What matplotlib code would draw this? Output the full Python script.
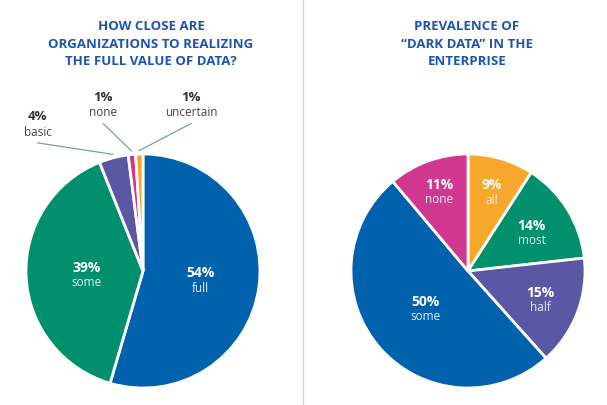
import numpy as np
import matplotlib
matplotlib.use("Agg")
import matplotlib.pyplot as plt
from matplotlib.lines import Line2D

plt.rcParams["font.family"] = ["Open Sans", "DejaVu Sans"]

W, H = 607, 406
TITLE_BLUE = "#1b55b0"
LIM = 1.8

# left pie: how close are organizations to realizing the full value of data
left_labels = ["full", "some", "basic", "none", "uncertain"]
left_values = [54, 39, 4, 1, 1]
left_colors = ["#0061ad", "#00906c", "#5a58a5", "#d1378f", "#f7a72b"]
left_title = "HOW CLOSE ARE\nORGANIZATIONS TO REALIZING\nTHE FULL VALUE OF DATA?"

# right pie: prevalence of dark data
right_labels = ["all", "most", "half", "some", "none"]
right_values = [9, 14, 15, 50, 11]
right_colors = ["#f7a72b", "#00906c", "#5a58a5", "#0061ad", "#d1378f"]
right_title = "PREVALENCE OF\n\u201cDARK DATA\u201d IN THE\nENTERPRISE"


def pie_axes(fig, cx, cy, r):
    # square axes where one data unit is r pixels, centred on (cx, cy) from top-left
    side = 2 * LIM * r
    ax = fig.add_axes([(cx - side / 2) / W, (H - cy - side / 2) / H, side / W, side / H])
    return ax


def fix_limits(ax):
    # pie() resets the limits, so put ours back afterwards
    ax.set_xlim(-LIM, LIM)
    ax.set_ylim(-LIM, LIM)
    ax.set_aspect("equal")
    ax.axis("off")


def mid_angle(w):
    return np.deg2rad((w.theta1 + w.theta2) / 2)


def inside_label(ax, w, pct, name, dist):
    a = mid_angle(w)
    x, y = dist * np.cos(a), dist * np.sin(a)
    ax.text(x, y + 0.06, f"{pct}%", ha="center", va="center", color="white",
            fontsize=10, fontweight="bold")
    ax.text(x, y - 0.07, name, ha="center", va="center", color="#e4ecf4",
            fontsize=8.5)


fig = plt.figure(figsize=(W / 100, H / 100), dpi=100)

# ---- left chart
axl = pie_axes(fig, 143, 272, 117)
wl, _ = axl.pie(left_values, colors=left_colors, startangle=90, counterclock=False,
                radius=1.0, wedgeprops=dict(edgecolor="white", linewidth=2))
fix_limits(axl)
inside_label(axl, wl[0], left_values[0], left_labels[0], 0.5)
inside_label(axl, wl[1], left_values[1], left_labels[1], 0.48)

# small slices get outside labels with leader lines
outside = {2: (-0.90, 1.265), 3: (-0.34, 1.43), 4: (0.41, 1.43)}
for i, (tx, ty) in outside.items():
    a = mid_angle(wl[i])
    axl.text(tx, ty + 0.06, f"{left_values[i]}%", ha="center", va="center",
             color="#333333", fontsize=9.5, fontweight="bold")
    axl.text(tx, ty - 0.07, left_labels[i], ha="center", va="center",
             color="#444444", fontsize=8.5)
    axl.plot([tx, 1.03 * np.cos(a)], [ty - 0.17, 1.03 * np.sin(a)],
             color="#7f9bb3", lw=0.9, clip_on=False)

# ---- right chart
axr = pie_axes(fig, 468, 272, 117)
wr, _ = axr.pie(right_values, colors=right_colors, startangle=90, counterclock=False,
                radius=1.0, wedgeprops=dict(edgecolor="white", linewidth=2))
fix_limits(axr)
right_dist = [0.71, 0.64, 0.66, 0.48, 0.73]
for w, v, name, d in zip(wr, right_values, right_labels, right_dist):
    inside_label(axr, w, v, name, d)

# ---- titles and separator
fig.text(151 / W, 1 - 44 / H, left_title, ha="center", va="center", color=TITLE_BLUE,
         fontsize=9.5, fontweight="bold", linespacing=1.45)
fig.text(467 / W, 1 - 44 / H, right_title, ha="center", va="center", color=TITLE_BLUE,
         fontsize=9.5, fontweight="bold", linespacing=1.45)
fig.add_artist(Line2D([303 / W, 303 / W], [0, 1], color="#cdd7e4", lw=1))

fig.savefig("out.png", dpi=100)
